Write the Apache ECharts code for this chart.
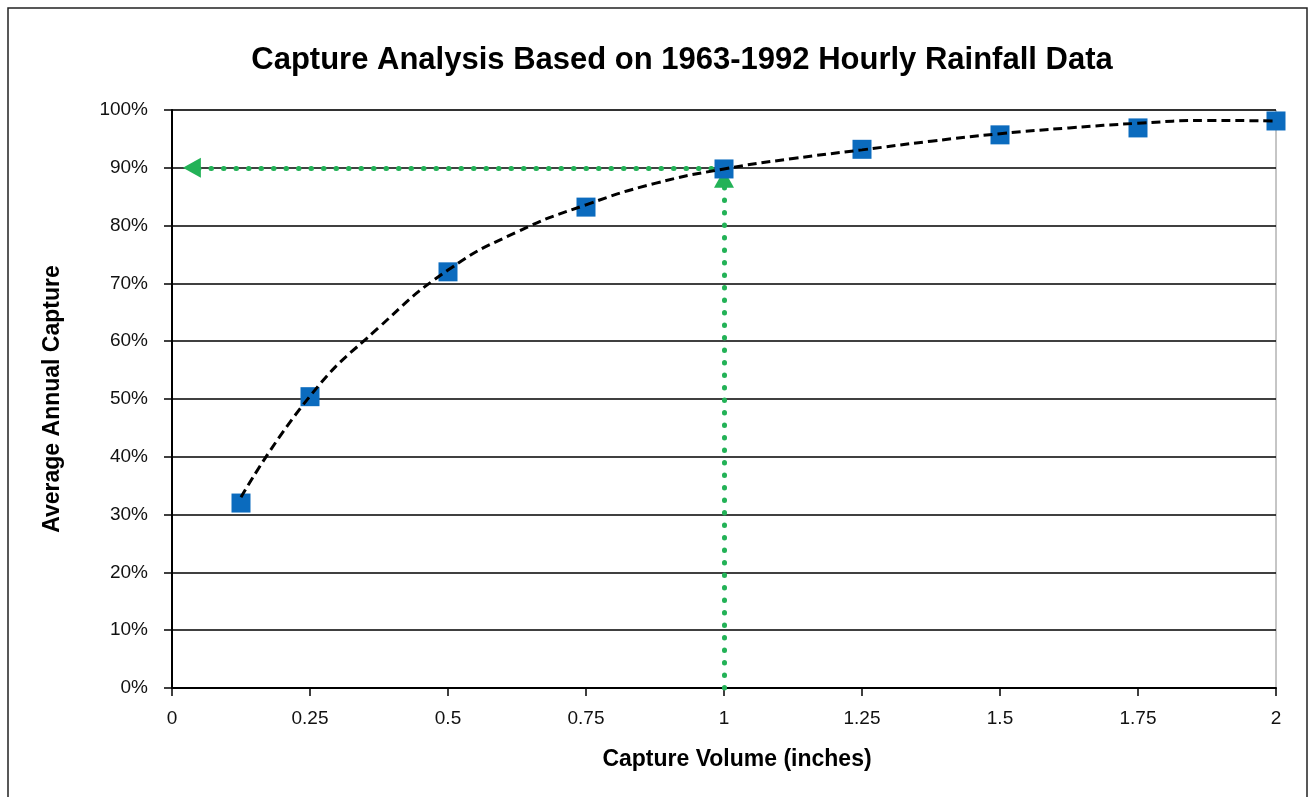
<!DOCTYPE html>
<html>
<head>
<meta charset="utf-8">
<title>Capture Analysis</title>
<script src="https://cdn.jsdelivr.net/npm/echarts@6/dist/echarts.min.js"></script>
<style>
  html, body { margin: 0; padding: 0; background: #fff; }
  #chart { width: 1309px; height: 797px; }
</style>
</head>
<body>
<div id="chart"></div>
<script>
  // data
  const captureVolume = [0.125, 0.25, 0.5, 0.75, 1, 1.25, 1.5, 1.75, 2]
  const avgCapture = [32.0, 50.4, 72.0, 83.2, 89.8, 93.2, 95.7, 96.9, 98.1]
  // dashed trend line, every 0.125 in
  const trendX = [0.125, 0.25, 0.375, 0.5, 0.625, 0.75, 0.875, 1.0, 1.125, 1.25, 1.375, 1.5, 1.625, 1.75, 1.875, 2.0]
  const trendY = [33.0, 50.5, 62.4, 72.3, 78.9, 83.6, 87.3, 89.8, 91.6, 93.1, 94.6, 95.9, 96.9, 97.7, 98.2, 98.1]
  // green guide lines (arrow heads sit just short of the ends)
  const targetVolume = 1
  const targetCapture = 90
  const arrowStopX = 0.036
  const arrowStopY = 88.1

  const font = '"Liberation Sans", Arial, sans-serif'
  const green = '#23B257'

  const chart = echarts.init(document.getElementById('chart'))
  const option = {
    backgroundColor: '#fff',
    animation: false,
    graphic: [
      {
        type: 'rect',
        shape: { x: 8, y: 8, width: 1299, height: 820 },
        style: { fill: 'none', stroke: '#222', lineWidth: 1.5 },
        silent: true
      },
      {
        type: 'text',
        x: 682,
        y: 60,
        silent: true,
        style: {
          text: 'Capture Analysis Based on 1963-1992 Hourly Rainfall Data',
          align: 'center',
          verticalAlign: 'middle',
          fontFamily: font,
          fontSize: 31,
          fontWeight: 'bold',
          fill: '#000'
        }
      }
    ],
    grid: {
      left: 172,
      right: 33,
      top: 110,
      bottom: 109,
      show: true,
      borderColor: '#8c8c8c',
      borderWidth: 1
    },
    xAxis: {
      type: 'value',
      min: 0,
      max: 2,
      interval: 0.25,
      name: 'Capture Volume (inches)',
      nameLocation: 'middle',
      nameGap: 60,
      nameTextStyle: { fontFamily: font, fontSize: 23, fontWeight: 'bold', color: '#000', padding: [0, 0, 0, 26] },
      axisLine: { show: true, onZero: false, lineStyle: { color: '#000', width: 2 } },
      axisTick: { show: true, length: 8, lineStyle: { color: '#000', width: 1.5 } },
      axisLabel: { fontFamily: font, fontSize: 19, color: '#111', margin: 21 },
      splitLine: { show: false }
    },
    yAxis: {
      type: 'value',
      min: 0,
      max: 100,
      interval: 10,
      name: 'Average Annual Capture',
      nameLocation: 'middle',
      nameGap: 108,
      nameTextStyle: { fontFamily: font, fontSize: 23, fontWeight: 'bold', color: '#000' },
      axisLine: { show: true, lineStyle: { color: '#000', width: 2 } },
      axisTick: { show: true, length: 8, lineStyle: { color: '#000', width: 1.5 } },
      axisLabel: { fontFamily: font, fontSize: 19, color: '#111', margin: 24, formatter: '{value}%' },
      splitLine: { show: true, lineStyle: { color: '#000', width: 1.5 } }
    },
    series: [
      {
        name: 'guide',
        type: 'line',
        zlevel: 0,
        data: [],
        silent: true,
        markLine: {
          silent: true,
          symbol: ['none', 'triangle'],
          symbolSize: [20, 18],
          label: { show: false },
          lineStyle: { color: green, width: 5, type: [0.5, 12], cap: 'round', opacity: 1 },
          data: [
            [{ coord: [targetVolume, 0] }, { coord: [targetVolume, arrowStopY] }],
            [{ coord: [targetVolume, targetCapture] }, { coord: [arrowStopX, targetCapture] }]
          ]
        }
      },
      {
        name: 'Average Annual Capture',
        type: 'scatter',
        zlevel: 1,
        z: 3,
        symbol: 'rect',
        symbolSize: 19,
        itemStyle: { color: '#0B6BBE', opacity: 1 },
        data: captureVolume.map((v, i) => [v, avgCapture[i]])
      },
      {
        name: 'trend',
        type: 'line',
        zlevel: 1,
        z: 4,
        smooth: 0.5,
        showSymbol: false,
        symbol: 'none',
        lineStyle: { color: '#000', width: 3, type: [9, 5] },
        data: trendX.map((v, i) => [v, trendY[i]])
      }
    ]
  }
  chart.setOption(option)
</script>
</body>
</html>
